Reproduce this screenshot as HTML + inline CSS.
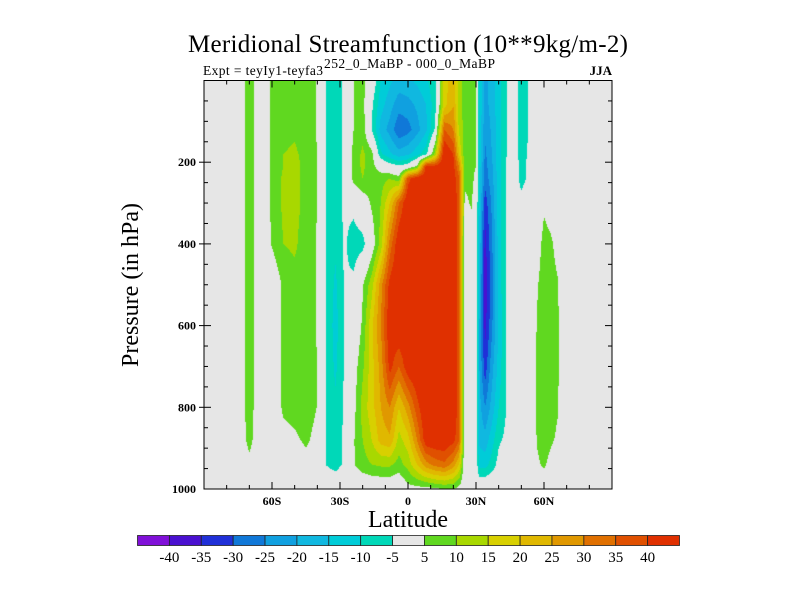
<!DOCTYPE html>
<html>
<head>
<meta charset="utf-8">
<style>
  html,body{margin:0;padding:0;background:#fff;}
  #wrap{position:relative;width:800px;height:600px;overflow:hidden;background:#fff;}
  #field{position:absolute;left:204px;top:80px;}
  #ov{position:absolute;left:0;top:0;}
  text{font-family:"Liberation Serif","Times New Roman",serif;fill:#000;}
</style>
</head>
<body>
<div id="wrap">
<canvas id="field" width="408" height="409"></canvas>
<svg id="ov" width="800" height="600">
  <text x="408" y="52" text-anchor="middle" font-size="25" textLength="440">Meridional Streamfunction (10**9kg/m-2)</text>
  <text x="203" y="75" font-size="13.5" textLength="120">Expt = teyIy1-teyfa3</text>
  <text x="324" y="68" font-size="13.5" textLength="171">252_0_MaBP - 000_0_MaBP</text>
  <text x="612" y="75" font-size="13" font-weight="bold" text-anchor="end">JJA</text>
  <text x="408" y="527" font-size="24" text-anchor="middle">Latitude</text>
  <text x="0" y="0" font-size="24" text-anchor="middle" transform="translate(138,285) rotate(-90)">Pressure (in hPa)</text>
  <g id="axes"></g>
  <g id="cbar"></g>
</svg>
</div>
<script>
const lats = [-88,-75,-70,-65,-60,-55,-50,-45,-40,-36,-32,-28,-24,-20,-16,-12,-8,-4,0,4,8,12,16,20,22.5,25,28,30,31.5,34,37,40,43,46,50,54,57,60,63,66,69,88];
const levels = [0,60,120,180,210,240,300,400,500,600,700,800,880,940,1000];
const psi = [
 [0,0,0,0,0,0,0,0,0,0,0,0,0,0,0],
 [0,0,0,0,0,0,0,0,0,0,0,0,0,0,0],
 [8,8,8,8,8,8,8,8,8,8,8,8,7,3,0],
 [0,0,0,0,0,0,0,0,0,0,0,0,0,0,0],
 [6,6,6,6,6,6,6,5.5,0,0,0,0,0,0,0],
 [7,7,8,10,10,11,11,10,6,6,6,6,3,0,0],
 [7,7,9,11,12,12,12,11,8,7,7,7,4,0,0],
 [7,7,7,8,8,8,8,7,7,7,8,8,6,3,0],
 [4.8,4.8,4.8,4.8,4.8,4.8,4.8,4.8,4.8,4.8,4.8,4.8,3,0,0],
 [-5.2,-5.2,-5.2,-5.2,-5.2,-5.2,-5.2,-5.5,-6,-6,-6,-5.5,-5.2,-5.2,0],
 [-8,-8,-8,-8,-8,-8,-8,-9,-11,-12,-11,-9,-8,-7,0],
 [-4,-4,-4,-4,-4,-4,-4,-4,-4.5,-4.5,-4.5,-4,-4,-4,0],
 [5,5,5,7,7,7,-3,-8,-3.5,-1,2,3,4.5,4.5,0],
 [7,7,8,11,11,10,1,-7,4.5,6,9,12,10,8,-1],
 [0,-4,-5,7,7,7,6,1,13,19,18,18,15,10,-1],
 [-10,-13,-17,-9,2,8,10,12,28,30,27,25,22,11,-1],
 [-14,-18,-22,-14,-2,10,20,32,42,45,42,30,24,11,-1],
 [-17,-23,-29,-18,-4,7,35,45,46,46,35,20,13,8,-1],
 [-16,-22,-27,-16,-2,38,46,46,46,46,44,28,18,12,3],
 [-14,-19,-22,-12,6,45,46,46,46,46,46,38,30,20,3],
 [-11,-15,-16,-7,42,46,46,46,46,46,46,46,44,28,3],
 [-6,-7,-4,12,42,46,46,46,46,46,46,46,45,32,4],
 [17,18,35,46,46,46,46,46,46,46,46,46,45,34,5],
 [24,25,30,40,42,43,44,44,44,44,44,44,42,28,5],
 [12,12,14,20,30,36,38,38,38,38,38,38,36,20,3],
 [8,8,8,7,7,6,4,0,0,0,0,0,0,0,0],
 [7,7,7,7,6,6,5.5,2,0,0,0,0,0,0,0],
 [5.5,5.5,5.5,5.5,5,4,2,0,0,0,0,0,0,0,0],
 [-10,-10,-11,-12,-12,-13,-14,-16,-18,-20,-20,-18,-16,-12,2],
 [-22,-22,-24,-26,-27,-28,-33,-37,-38,-37,-33,-25,-18,-12,2],
 [-18,-18,-19,-20,-21,-22,-24,-26,-27,-26,-22,-18,-12,-8,2],
 [-12,-12,-12,-12,-12,-12,-12,-13,-13,-14,-13,-10,-6,-3,0],
 [-6,-6,-6,-6,-5.5,-5.5,-5.5,-5.5,-5.5,-5.5,-5.5,-5.5,-4,0,0],
 [0,0,0,0,0,0,0,0,0,0,0,0,0,0,0],
 [-8,-8,-8,-7.5,-7,-7,-3,0,0,0,0,0,0,0,0],
 [-4,-4,-4,-3.5,-3,-3,0,0,0,0,0,0,0,0,0],
 [0,0,0,0,0,0,0,2,4.5,5.5,6,6,5.5,4,0],
 [0,0,0,0,0,0,4,7,8,8,8,8,8,6,0],
 [0,0,0,0,0,0,2,6,7,7.5,7.5,7.5,6,3,0],
 [0,0,0,0,0,0,0,3,5.5,6,6,5.5,4,0,0],
 [0,0,0,0,0,0,0,0,0,0,0,0,0,0,0],
 [0,0,0,0,0,0,0,0,0,0,0,0,0,0,0]
];
const thresholds = [-40,-35,-30,-25,-20,-15,-10,-5,5,10,15,20,25,30,35,40];
const colorbarLabels = ["-40","-35","-30","-25","-20","-15","-10","-5","5","10","15","20","25","30","35","40"];
const binColors = ["#8010d8","#4a10d0","#2030d8","#1078d8","#10a0e0","#10b8e0","#00ccd8","#00d8b8","#e6e6e6","#60d820","#a8d800","#d8d000","#e0b800","#e09800","#e07000","#e05000","#e03000"];
const latTicks = [-80,-70,-60,-50,-40,-30,-20,-10,0,10,20,30,40,50,60,70,80];
const latLabelValues = [-60,-30,0,30,60];
const latLabelText = ["60S","30S","0","30N","60N"];
const pTicks = [50,100,150,200,250,300,350,400,450,500,550,600,650,700,750,800,850,900,950];
const pLabelValues = [200,400,600,800,1000];

const X0=204, X1=612, Y0=80.5, YS=0.4085;
function xOf(lat){ return X0 + (lat+90)*(X1-X0)/180; }
function yOf(p){ return Y0 + p*YS; }
function latOfPx(px){ return -90 + px*180/(X1-X0); }
function pOfPx(py){ return py/YS; }

function findIdx(arr,v){
  if(v<=arr[0]) return [0,0];
  if(v>=arr[arr.length-1]) return [arr.length-2,1];
  let i=0; while(arr[i+1]<v) i++;
  return [i,(v-arr[i])/(arr[i+1]-arr[i])];
}
function valueAt(lat,p){
  const [i,tx]=findIdx(lats,lat);
  const [j,ty]=findIdx(levels,p);
  const a=psi[i][j], b=psi[i+1][j], c=psi[i][j+1], d=psi[i+1][j+1];
  return (a*(1-tx)+b*tx)*(1-ty)+(c*(1-tx)+d*tx)*ty;
}
function binOf(v){ let k=0; while(k<thresholds.length && v>=thresholds[k]) k++; return k; }
function hexRgb(h){ return [parseInt(h.substr(1,2),16),parseInt(h.substr(3,2),16),parseInt(h.substr(5,2),16)]; }

(function(){
  const cv=document.getElementById('field'); const ctx=cv.getContext('2d');
  const W=cv.width, H=cv.height; const img=ctx.createImageData(W,H);
  const rgb=binColors.map(hexRgb);
  for(let py=0;py<H;py++){
    const p=pOfPx(py+0.5+(80-Y0));
    for(let px=0;px<W;px++){
      const lat=latOfPx(px+0.5);
      const c=rgb[binOf(valueAt(lat,p))];
      const o=(py*W+px)*4; img.data[o]=c[0]; img.data[o+1]=c[1]; img.data[o+2]=c[2]; img.data[o+3]=255;
    }
  }
  ctx.putImageData(img,0,0);
})();

const NS="http://www.w3.org/2000/svg";
function mk(tag,attrs,parent){ const e=document.createElementNS(NS,tag); for(const k in attrs) e.setAttribute(k,attrs[k]); parent.appendChild(e); return e; }

(function(){
  const g=document.getElementById('axes');
  const frame=mk('rect',{x:X0,y:Y0,width:X1-X0,height:yOf(1000)-Y0,fill:'none',stroke:'#000','stroke-width':1},g);
  
  
  const yb=yOf(1000);
  latTicks.forEach(l=>{
    const x=xOf(l); const major=(l%30===0); const len=major?7:4;
    const t1=mk('line',{x1:x,y1:yb,x2:x,y2:yb-len,stroke:'#000','stroke-width':1},g);
    
    
    const t2=mk('line',{x1:x,y1:Y0,x2:x,y2:Y0+len,stroke:'#000','stroke-width':1},g);
    
    
  });
  latLabelValues.forEach((l,i)=>{
    const t=mk('text',{x:xOf(l),y:505,'font-size':12,'font-weight':'bold','text-anchor':'middle'},g);
    t.textContent=latLabelText[i];
    
    
  });
  pTicks.forEach(p=>{
    const y=yOf(p); const major=(p%200===0); const len=major?7:4;
    const t1=mk('line',{x1:major?X0-5:X0,y1:y,x2:X0+len,y2:y,stroke:'#000','stroke-width':1},g);
    
    
    const t2=mk('line',{x1:X1,y1:y,x2:X1-len,y2:y,stroke:'#000','stroke-width':1},g);
    
    
  });
  pLabelValues.forEach(p=>{
    const t=mk('text',{x:196,y:yOf(p)+4,'font-size':12,'font-weight':'bold','text-anchor':'end'},g);
    t.textContent=String(p);
    
    
  });
})();

(function(){
  const g=document.getElementById('cbar');
  const cx0=137.5, cx1=679.5, cy=535.5, ch=10; const bw=(cx1-cx0)/binColors.length;
  binColors.forEach((c,i)=>{
    const r=mk('rect',{x:cx0+i*bw,y:cy,width:bw,height:ch,fill:c,stroke:'#222','stroke-width':0.8},g);
    
    
  });
  colorbarLabels.forEach((s,i)=>{
    const t=mk('text',{x:cx0+(i+1)*bw,y:562,'font-size':15,'text-anchor':'middle'},g);
    t.textContent=s;
    
    
  });
})();
</script>
</body>
</html>
